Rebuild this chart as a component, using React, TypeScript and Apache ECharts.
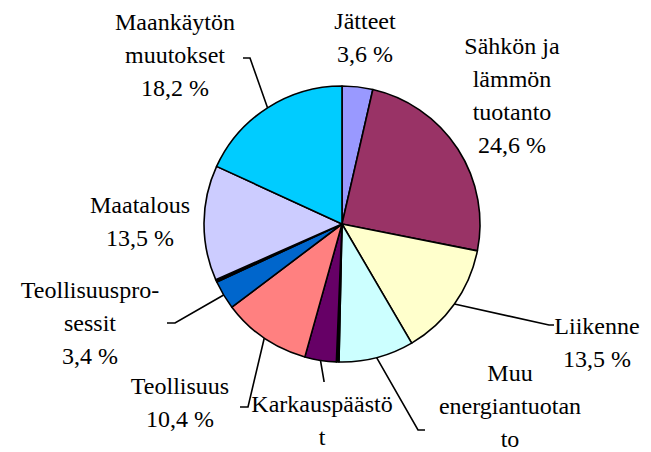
import React, { useEffect, useRef } from 'react';
import * as echarts from 'echarts';

// Slices clockwise from 12 o'clock
const categories = [
  'Jätteet',
  'Sähkön ja lämmön tuotanto',
  'Liikenne',
  'Muu energiantuotanto',
  'Muu 1',
  'Karkauspäästöt',
  'Teollisuus',
  'Teollisuusprosessit',
  'Muu 2',
  'Maatalous',
  'Maankäytön muutokset',
];
const values = [3.6, 24.6, 13.5, 8.8, 0.3, 3.7, 10.4, 3.4, 0.3, 13.5, 18.2];
// label text as printed (with the original line breaks)
const labelNames = [
  'Jätteet',
  'Sähkön ja\nlämmön\ntuotanto',
  'Liikenne',
  'Muu\nenergiantuotan\nto',
  '',
  'Karkauspäästö\nt',
  'Teollisuus',
  'Teollisuuspro-\nsessit',
  '',
  'Maatalous',
  'Maankäytön\nmuutokset',
];
const showPercent = [true, true, true, false, false, false, true, true, false, true, true];
const colors = [
  '#9999FF', '#993366', '#FFFFCC', '#CCFFFF', '#000000', '#660066',
  '#FF8080', '#0066CC', '#000000', '#CCCCFF', '#00CCFF',
];

// layout: label block centres, and leader elbow / end points
const labelPos: (number[] | null)[] = [
  [365, 37], [512, 95], [597, 342], [510, 406], null, [322, 420],
  [180, 402], [90, 323], null, [140, 221], [175, 55],
];
const leaderPts: (number[][] | null)[] = [
  null, null,
  [[549, 325], [554, 325]],
  [[418, 430], [425, 430]],
  null,
  [[324, 381], [324, 382]],
  [[248, 407], [240, 407]],
  [[175, 323], [167, 323]],
  null, null,
  [[250, 58], [243, 58]],
];
const LINE_H = 33;

const FONT = 'Liberation Serif';
const fmt = (v: number) => v.toFixed(1).replace('.', ',') + ' %';

export default function App() {
  const ref = useRef<HTMLDivElement>(null);
  useEffect(() => {
    if (!ref.current) return;
    const chart = echarts.init(ref.current, undefined, { renderer: 'svg' });
    const data = categories.map((name, i) => {
      const hasLeader = leaderPts[i] !== null;
      return {
        name,
        value: values[i],
        itemStyle: { color: colors[i] },
        label: { show: hasLeader, formatter: ' ' },
        labelLine: { show: hasLeader },
      };
    });
    const texts: any[] = [];
    categories.forEach((_, i) => {
      const p = labelPos[i];
      if (!p || labelNames[i] === '') return;
      const lines = labelNames[i].split('\n');
      if (showPercent[i]) lines.push(fmt(values[i]));
      lines.forEach((line, k) => {
        texts.push({
          type: 'text',
          x: p[0],
          y: p[1] + (k - (lines.length - 1) / 2) * LINE_H,
          silent: true,
          style: {
            text: line,
            fontFamily: FONT,
            fontSize: 24,
            align: 'center',
            verticalAlign: 'middle',
            fill: '#000000',
          },
        });
      });
    });
    chart.setOption({
      animation: false,
      graphic: texts,
      series: [
        {
          type: 'pie',
          center: [342, 224],
          radius: 138,
          startAngle: 90,
          clockwise: true,
          avoidLabelOverlap: false,
          silent: true,
          itemStyle: { borderColor: '#000000', borderWidth: 1.6 },
          label: {
            position: 'outside',
            fontSize: 1,
            color: 'rgba(0,0,0,0)',
          },
          labelLine: {
            length: 10,
            length2: 8,
            lineStyle: { color: '#000000', width: 1.6 },
          },
          labelLayout: (params: any) => {
            const lp = leaderPts[params.dataIndex];
            if (!lp) return {};
            const end = lp[lp.length - 1];
            const base = params.labelLinePoints;
            if (base && base.length) {
              return { x: end[0], y: end[1], labelLinePoints: [base[0], ...lp] };
            }
            return { x: end[0], y: end[1] };
          },
          data,
        },
      ],
    });
    return () => chart.dispose();
  }, []);
  return (
    <div
      ref={ref}
      style={{ position: 'absolute', left: 0, top: 0, width: 651, height: 452 }}
    />
  );
}
